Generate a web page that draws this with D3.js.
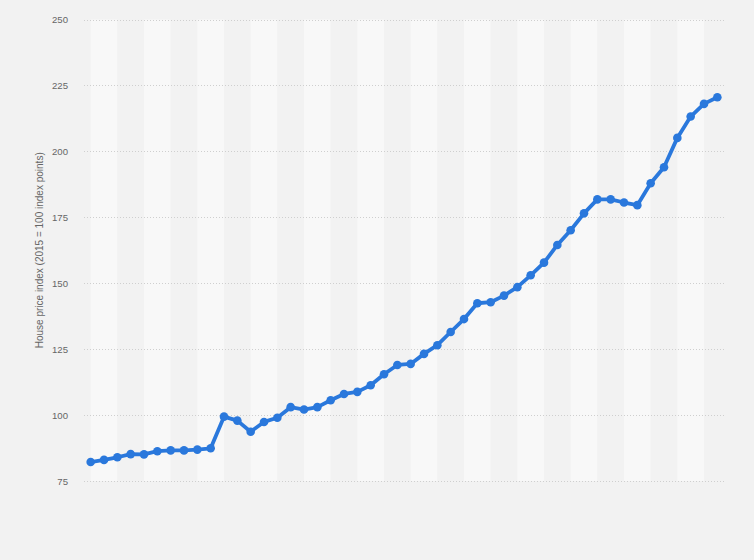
<!DOCTYPE html>
<html lang="en">
<head>
<meta charset="utf-8">
<style>
    body { margin: 0; background: #f2f2f2; }
    .axis text { font-family: "Liberation Sans", Arial, sans-serif; font-size: 9.6px; fill: #666; }
    .axis path, .axis line { display: none; }
</style>
<script src="https://cdn.jsdelivr.net/npm/d3@7"></script>
</head>
<body>
<script>
// quarterly house price index
const values = [
    82.2, 83.0, 84.0, 85.2, 85.1, 86.3, 86.6, 86.6, 86.9, 87.4,
    99.4, 97.9, 93.7, 97.4, 99.0, 103.0, 102.1, 103.0, 105.6, 108.0,
    108.8, 111.3, 115.5, 119.0, 119.4, 123.2, 126.5, 131.5, 136.4, 142.4,
    142.8, 145.3, 148.5, 153.0, 157.8, 164.5, 170.1, 176.5, 181.8, 181.8,
    180.6, 179.6, 187.9, 194.0, 205.1, 213.2, 218.0, 220.5
];
const yTicks = [75, 100, 125, 150, 175, 200, 225, 250];
const yLabel = "House price index (2015 = 100 index points)";

const w = 754, h = 560;
const margin = {top: 19.5, right: 30, bottom: 79, left: 84};

let svg = d3.select("body").append("svg")
    .attr("width", w)
    .attr("height", h);

svg.append("rect")
    .attr("width", w).attr("height", h)
    .attr("fill", "#f2f2f2");

let n = values.length;
let xScale = d3.scaleLinear()
    .domain([-0.5, n - 0.5])
    .range([margin.left, w - margin.right]);

let yScale = d3.scaleLinear()
    .domain([75, 250])
    .range([h - margin.bottom, margin.top]);

// alternating column bands, two points wide
let bands = d3.range(0, n - 1, 2).map((i) => ({start: i, end: Math.min(i + 2, n - 0.5), light: (i / 2) % 2 === 0}));
bands.unshift({start: -0.5, end: 0, light: false});

svg.append("g").selectAll("rect")
    .data(bands)
    .enter()
    .append("rect")
    .attr("x", (d) => xScale(d.start))
    .attr("width", (d) => xScale(d.end) - xScale(d.start))
    .attr("y", yScale(250))
    .attr("height", yScale(75) - yScale(250))
    .attr("fill", (d) => d.light ? "#f8f8f8" : "#f2f2f2");

// gridlines
svg.append("g").selectAll("line")
    .data(yTicks)
    .enter()
    .append("line")
    .attr("x1", margin.left)
    .attr("x2", w - margin.right)
    .attr("y1", (d) => Math.round(yScale(d)) + 0.5)
    .attr("y2", (d) => Math.round(yScale(d)) + 0.5)
    .attr("stroke", "#cfcfcf")
    .attr("stroke-width", 1)
    .attr("stroke-dasharray", "1,2");

let yAxis = d3.axisLeft(yScale).tickValues(yTicks).tickSize(0).tickPadding(0);
svg.append("g")
    .attr("class", "axis")
    .attr("transform", "translate(68, 0)")
    .call(yAxis);

svg.append("text")
    .attr("transform", "translate(43, " + ((yScale(75) + yScale(250)) / 2) + ") rotate(-90)")
    .attr("text-anchor", "middle")
    .attr("font-family", "Liberation Sans, Arial, sans-serif")
    .attr("font-size", "10px")
    .attr("fill", "#666")
    .text(yLabel);

let line = d3.line()
    .x((d, i) => xScale(i))
    .y((d) => yScale(d));

svg.append("path")
    .datum(values)
    .attr("d", line)
    .attr("fill", "none")
    .attr("stroke", "#2a78dc")
    .attr("stroke-width", 3.8)
    .attr("stroke-linejoin", "round");

svg.append("g").selectAll("circle")
    .data(values)
    .enter()
    .append("circle")
    .attr("cx", (d, i) => xScale(i))
    .attr("cy", (d) => yScale(d))
    .attr("r", 4.3)
    .attr("fill", "#2a78dc");
</script>
</body>
</html>
